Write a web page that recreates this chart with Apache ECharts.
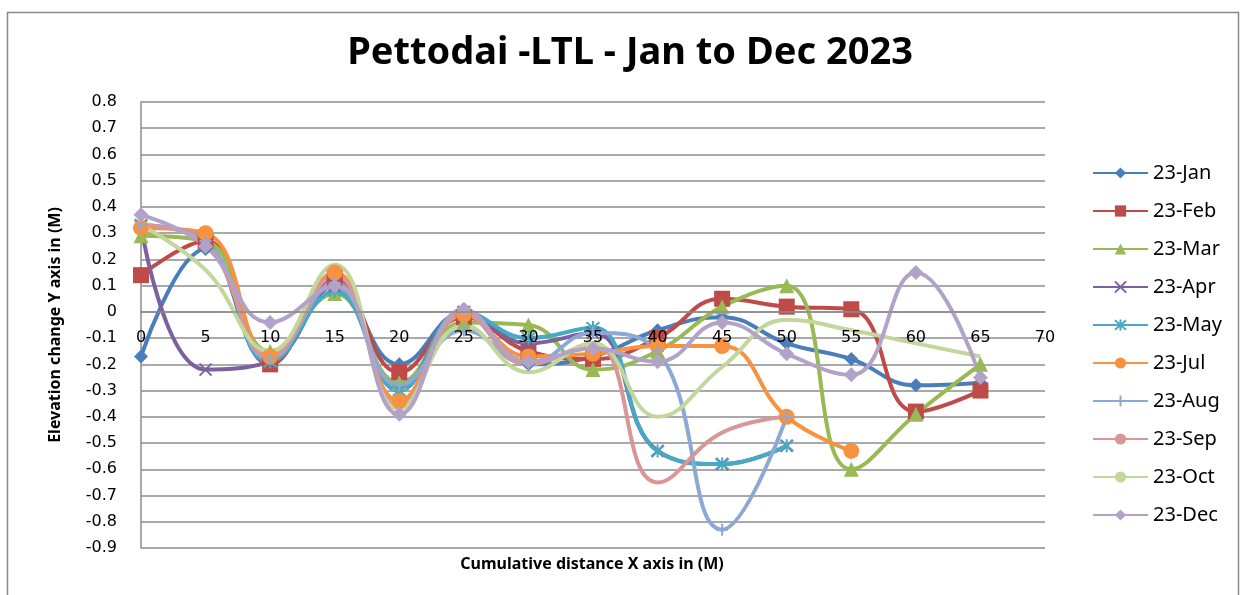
<!DOCTYPE html>
<html>
<head>
<meta charset="utf-8">
<script src="https://cdn.jsdelivr.net/npm/echarts@6/dist/echarts.min.js"></script>
<style>
  html, body { margin: 0; padding: 0; background: #fff; }
  #chart { width: 1242px; height: 595px; }
</style>
</head>
<body>
<div id="chart"></div>
<script>
// cumulative distance (M)
const distances = [0, 5, 10, 15, 20, 25, 30, 35, 40, 45, 50, 55, 60, 65];

// elevation change (M) per survey month
const jan = [-0.17, 0.24, -0.2, 0.1, -0.2, 0, -0.2, -0.17, -0.07, -0.02, -0.12, -0.18, -0.28, -0.27];
const feb = [0.14, 0.27, -0.2, 0.13, -0.23, -0.02, -0.15, -0.18, -0.1, 0.05, 0.02, 0.01, -0.38, -0.3];
const mar = [0.29, 0.27, -0.15, 0.07, -0.27, -0.04, -0.05, -0.22, -0.15, 0.02, 0.1, -0.6, -0.39, -0.2];
const apr = [0.33, -0.22, -0.19, 0.1, -0.3, 0, -0.12, -0.08, -0.53, -0.58, -0.51];
const may = [0.33, 0.27, -0.19, 0.08, -0.3, 0, -0.1, -0.06, -0.53, -0.58, -0.51];
const jul = [0.32, 0.3, -0.17, 0.15, -0.34, -0.01, -0.17, -0.16, -0.13, -0.13, -0.4, -0.53];
const aug = [0.33, 0.27, -0.18, 0.11, -0.28, -0.07, -0.2, -0.08, -0.15, -0.83, -0.4];
const sep = [0.33, 0.26, -0.17, 0.14, -0.36, -0.01, -0.2, -0.12, -0.65, -0.46, -0.4];
const oct = [0.33, 0.16, -0.15, 0.18, -0.37, -0.05, -0.23, -0.12, -0.4, -0.21, -0.03, -0.07, -0.12, -0.17];
const dec = [0.37, 0.25, -0.04, 0.1, -0.39, 0.01, -0.19, -0.14, -0.19, -0.04, -0.16, -0.24, 0.15, -0.25];

const seriesNames = ['23-Jan', '23-Feb', '23-Mar', '23-Apr', '23-May', '23-Jul', '23-Aug', '23-Sep', '23-Oct', '23-Dec'];
const seriesValues = [jan, feb, mar, apr, may, jul, aug, sep, oct, dec];

const colors = ['#4a7ebb', '#be4b48', '#98b954', '#7d60a0', '#46aac5', '#f69240', '#8ca9d6', '#d99694', '#c3d69b', '#b3a2c7'];
const crossPath = 'path://M0,0L10,10M10,0L0,10';
const starPath = 'path://M0,0L10,10M10,0L0,10M5,-1L5,11';
const plusPath = 'path://M5,0L5,10M0,5L10,5';
const symbols = ['diamond', 'rect', 'triangle', crossPath, starPath, 'circle', plusPath, 'none', 'none', 'diamond'];
const symbolSizes = [14, 16, 15, 12, 13, 16, 12, 0, 0, 15];

const chart = echarts.init(document.getElementById('chart'));

const series = seriesNames.map((name, i) => {
  const isPath = symbols[i].indexOf('path://') === 0;
  return {
    name: name,
    type: 'line',
    smooth: 0.45,
    data: seriesValues[i].map((v, j) => [distances[j], v]),
    symbol: symbols[i],
    symbolSize: symbolSizes[i],
    showSymbol: symbols[i] !== 'none',
    lineStyle: { width: 4, color: colors[i] },
    itemStyle: isPath
      ? { color: colors[i], borderColor: colors[i], borderWidth: 2 }
      : { color: colors[i] },
    emphasis: { disabled: true }
  };
});

const gridTop = 102, gridBottom = 47;

const option = {
  animation: false,
  color: colors,
  graphic: [
    {
      type: 'rect',
      shape: { x: 7.5, y: 12.5, width: 1231, height: 600 },
      style: { fill: 'none', stroke: '#888', lineWidth: 1.5 }
    },
    {
      type: 'text',
      x: 630, y: 53,
      style: {
        text: 'Pettodai -LTL - Jan to Dec 2023',
        font: 'bold 38px "Noto Sans"',
        fill: '#000',
        textAlign: 'center',
        textVerticalAlign: 'middle'
      }
    },
    {
      type: 'text',
      x: 592, y: 564,
      style: {
        text: 'Cumulative distance X axis in (M)',
        font: 'bold 16px "Noto Sans"',
        fill: '#000',
        textAlign: 'center',
        textVerticalAlign: 'middle'
      }
    }
  ],
  legend: {
    orient: 'vertical',
    left: 1087,
    top: 157,
    itemWidth: 55,
    itemHeight: 14,
    itemGap: 16,
    data: seriesNames,
    textStyle: { fontFamily: 'Noto Sans', fontSize: 20, color: '#000', lineHeight: 22 }
  },
  grid: { left: 141, right: 197, top: gridTop, bottom: gridBottom },
  xAxis: {
    type: 'value',
    min: 0,
    max: 70,
    interval: 5,
    z: 5,
    axisLine: { onZero: true, lineStyle: { color: '#8c8c8c', width: 1.5 } },
    axisTick: { show: false },
    splitLine: { show: false },
    axisLabel: { color: '#000', fontFamily: 'DejaVu Sans', fontSize: 16, margin: 18 }
  },
  yAxis: {
    type: 'value',
    min: -0.9,
    max: 0.8,
    interval: 0.1,
    name: 'Elevation change Y axis in (M)',
    nameLocation: 'middle',
    nameRotate: 90,
    nameGap: 78,
    nameTextStyle: { fontFamily: 'Noto Sans', fontWeight: 'bold', fontSize: 16, color: '#000' },
    axisLine: { show: true, onZero: false, lineStyle: { color: '#8c8c8c', width: 1.5 } },
    axisTick: { show: false },
    splitLine: { lineStyle: { color: '#8c8c8c', width: 1.5 } },
    axisLabel: {
      color: '#000',
      fontFamily: 'DejaVu Sans',
      fontSize: 16,
      margin: 24,
      formatter: v => String(Number(v.toFixed(1)))
    }
  },
  series: series
};

chart.setOption(option);

// Excel puts the category labels on the zero line; shift the x axis there
const zeroY = chart.convertToPixel({ yAxisIndex: 0 }, 0);
const bottomY = chart.getHeight() - gridBottom;
if (Math.abs(bottomY - zeroY) > 2) {
  chart.setOption({ xAxis: { axisLine: { onZero: false }, offset: -(bottomY - zeroY) } });
}
</script>
</body>
</html>
